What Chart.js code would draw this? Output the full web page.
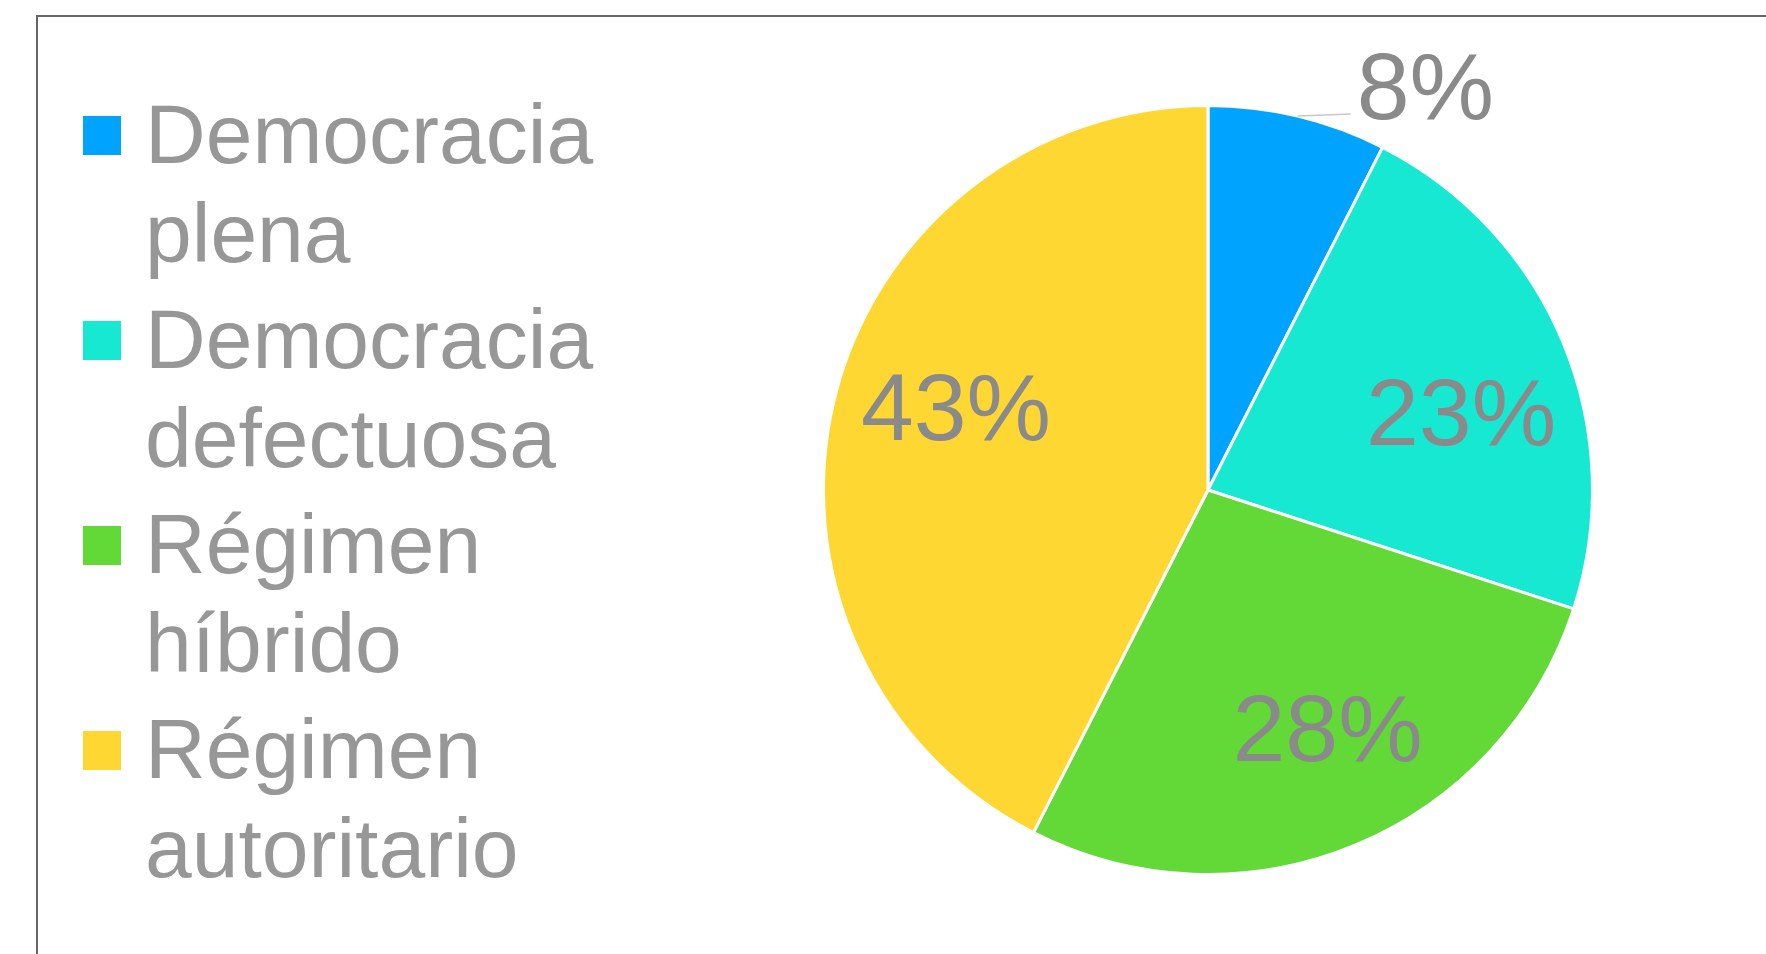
<!DOCTYPE html>
<html>
<head>
<meta charset="utf-8">
<script src="https://cdn.jsdelivr.net/npm/chart.js@4"></script>
<style>
  html, body { margin: 0; padding: 0; background: #fff; }
  canvas { display: block; }
</style>
</head>
<body>
<canvas id="chart" width="1766" height="954"></canvas>
<script>
// categorieën en waarden (aandeel per type regime)
const categories = ['Democracia plena', 'Democracia defectuosa', 'Régimen híbrido', 'Régimen autoritario'];
const values = [7.5, 22.5, 27.5, 42.5];
const sliceColors = ['#00A4FF', '#16E8D1', '#62D937', '#FFD733'];

// kleine verschuivingen van de labels binnen de taart (px)
const labelNudge = [[0, 0], [8, 23], [18, -8], [6, -22]];

const FONT = '"Liberation Sans", Arial, sans-serif';

// plugin: kader, legenda en percentage-labels
const decorations = {
    id: 'decorations',
    afterDraw(chart) {
        const ctx = chart.ctx;
        const meta = chart.getDatasetMeta(0);
        const data = chart.data.datasets[0].data;
        const total = data.reduce((s, v) => s + v, 0);

        ctx.save();

        // kader rond de grafiek (loopt buiten beeld door)
        ctx.strokeStyle = '#666666';
        ctx.lineWidth = 2;
        ctx.strokeRect(37, 16, 2000, 2000);

        // legenda
        ctx.font = '84px ' + FONT;
        ctx.textBaseline = 'alphabetic';
        ctx.textAlign = 'left';
        chart.data.labels.forEach((label, i) => {
            const top = 116 + i * 205;
            ctx.fillStyle = chart.data.datasets[0].backgroundColor[i];
            ctx.fillRect(83, top, 38, 39);
            ctx.fillStyle = '#979797';
            label.split(' ').forEach((line, j) => {
                ctx.fillText(line, 145, top + 47 + j * 99);
            });
        });

        // percentage-labels
        ctx.font = '95px ' + FONT;
        meta.data.forEach((arc, i) => {
            const p = arc.getProps(['x', 'y', 'startAngle', 'endAngle', 'outerRadius']);
            const mid = (p.startAngle + p.endAngle) / 2;
            const pct = Math.round(data[i] / total * 100) + '%';
            ctx.fillStyle = '#8a8a8a';
            if (data[i] / total < 0.1) {
                // klein segment: label buiten de taart met lijntje
                const sx = p.x + Math.cos(mid) * p.outerRadius;
                const sy = p.y + Math.sin(mid) * p.outerRadius;
                const ex = sx + 53, ey = sy - 2;
                ctx.strokeStyle = '#c8c8c8';
                ctx.lineWidth = 1.5;
                ctx.beginPath();
                ctx.moveTo(sx, sy);
                ctx.lineTo(ex, ey);
                ctx.stroke();
                ctx.textAlign = 'left';
                ctx.fillText(pct, ex + 6, ey + 5);
            } else {
                const r = p.outerRadius * 0.69;
                const cx = p.x + Math.cos(mid) * r + labelNudge[i][0];
                const cy = p.y + Math.sin(mid) * r + labelNudge[i][1];
                ctx.textAlign = 'center';
                ctx.fillText(pct, cx, cy + 95 * 0.358);
            }
        });

        ctx.restore();
    }
};

new Chart(document.getElementById('chart'), {
    type: 'pie',
    data: {
        labels: categories,
        datasets: [{
            data: values,
            backgroundColor: sliceColors,
            borderColor: '#ffffff',
            borderWidth: 3
        }]
    },
    options: {
        responsive: false,
        animation: false,
        layout: { padding: { left: 822, right: 172, top: 104, bottom: 78 } },
        plugins: {
            legend: { display: false },
            tooltip: { enabled: false }
        }
    },
    plugins: [decorations]
});
</script>
</body>
</html>
